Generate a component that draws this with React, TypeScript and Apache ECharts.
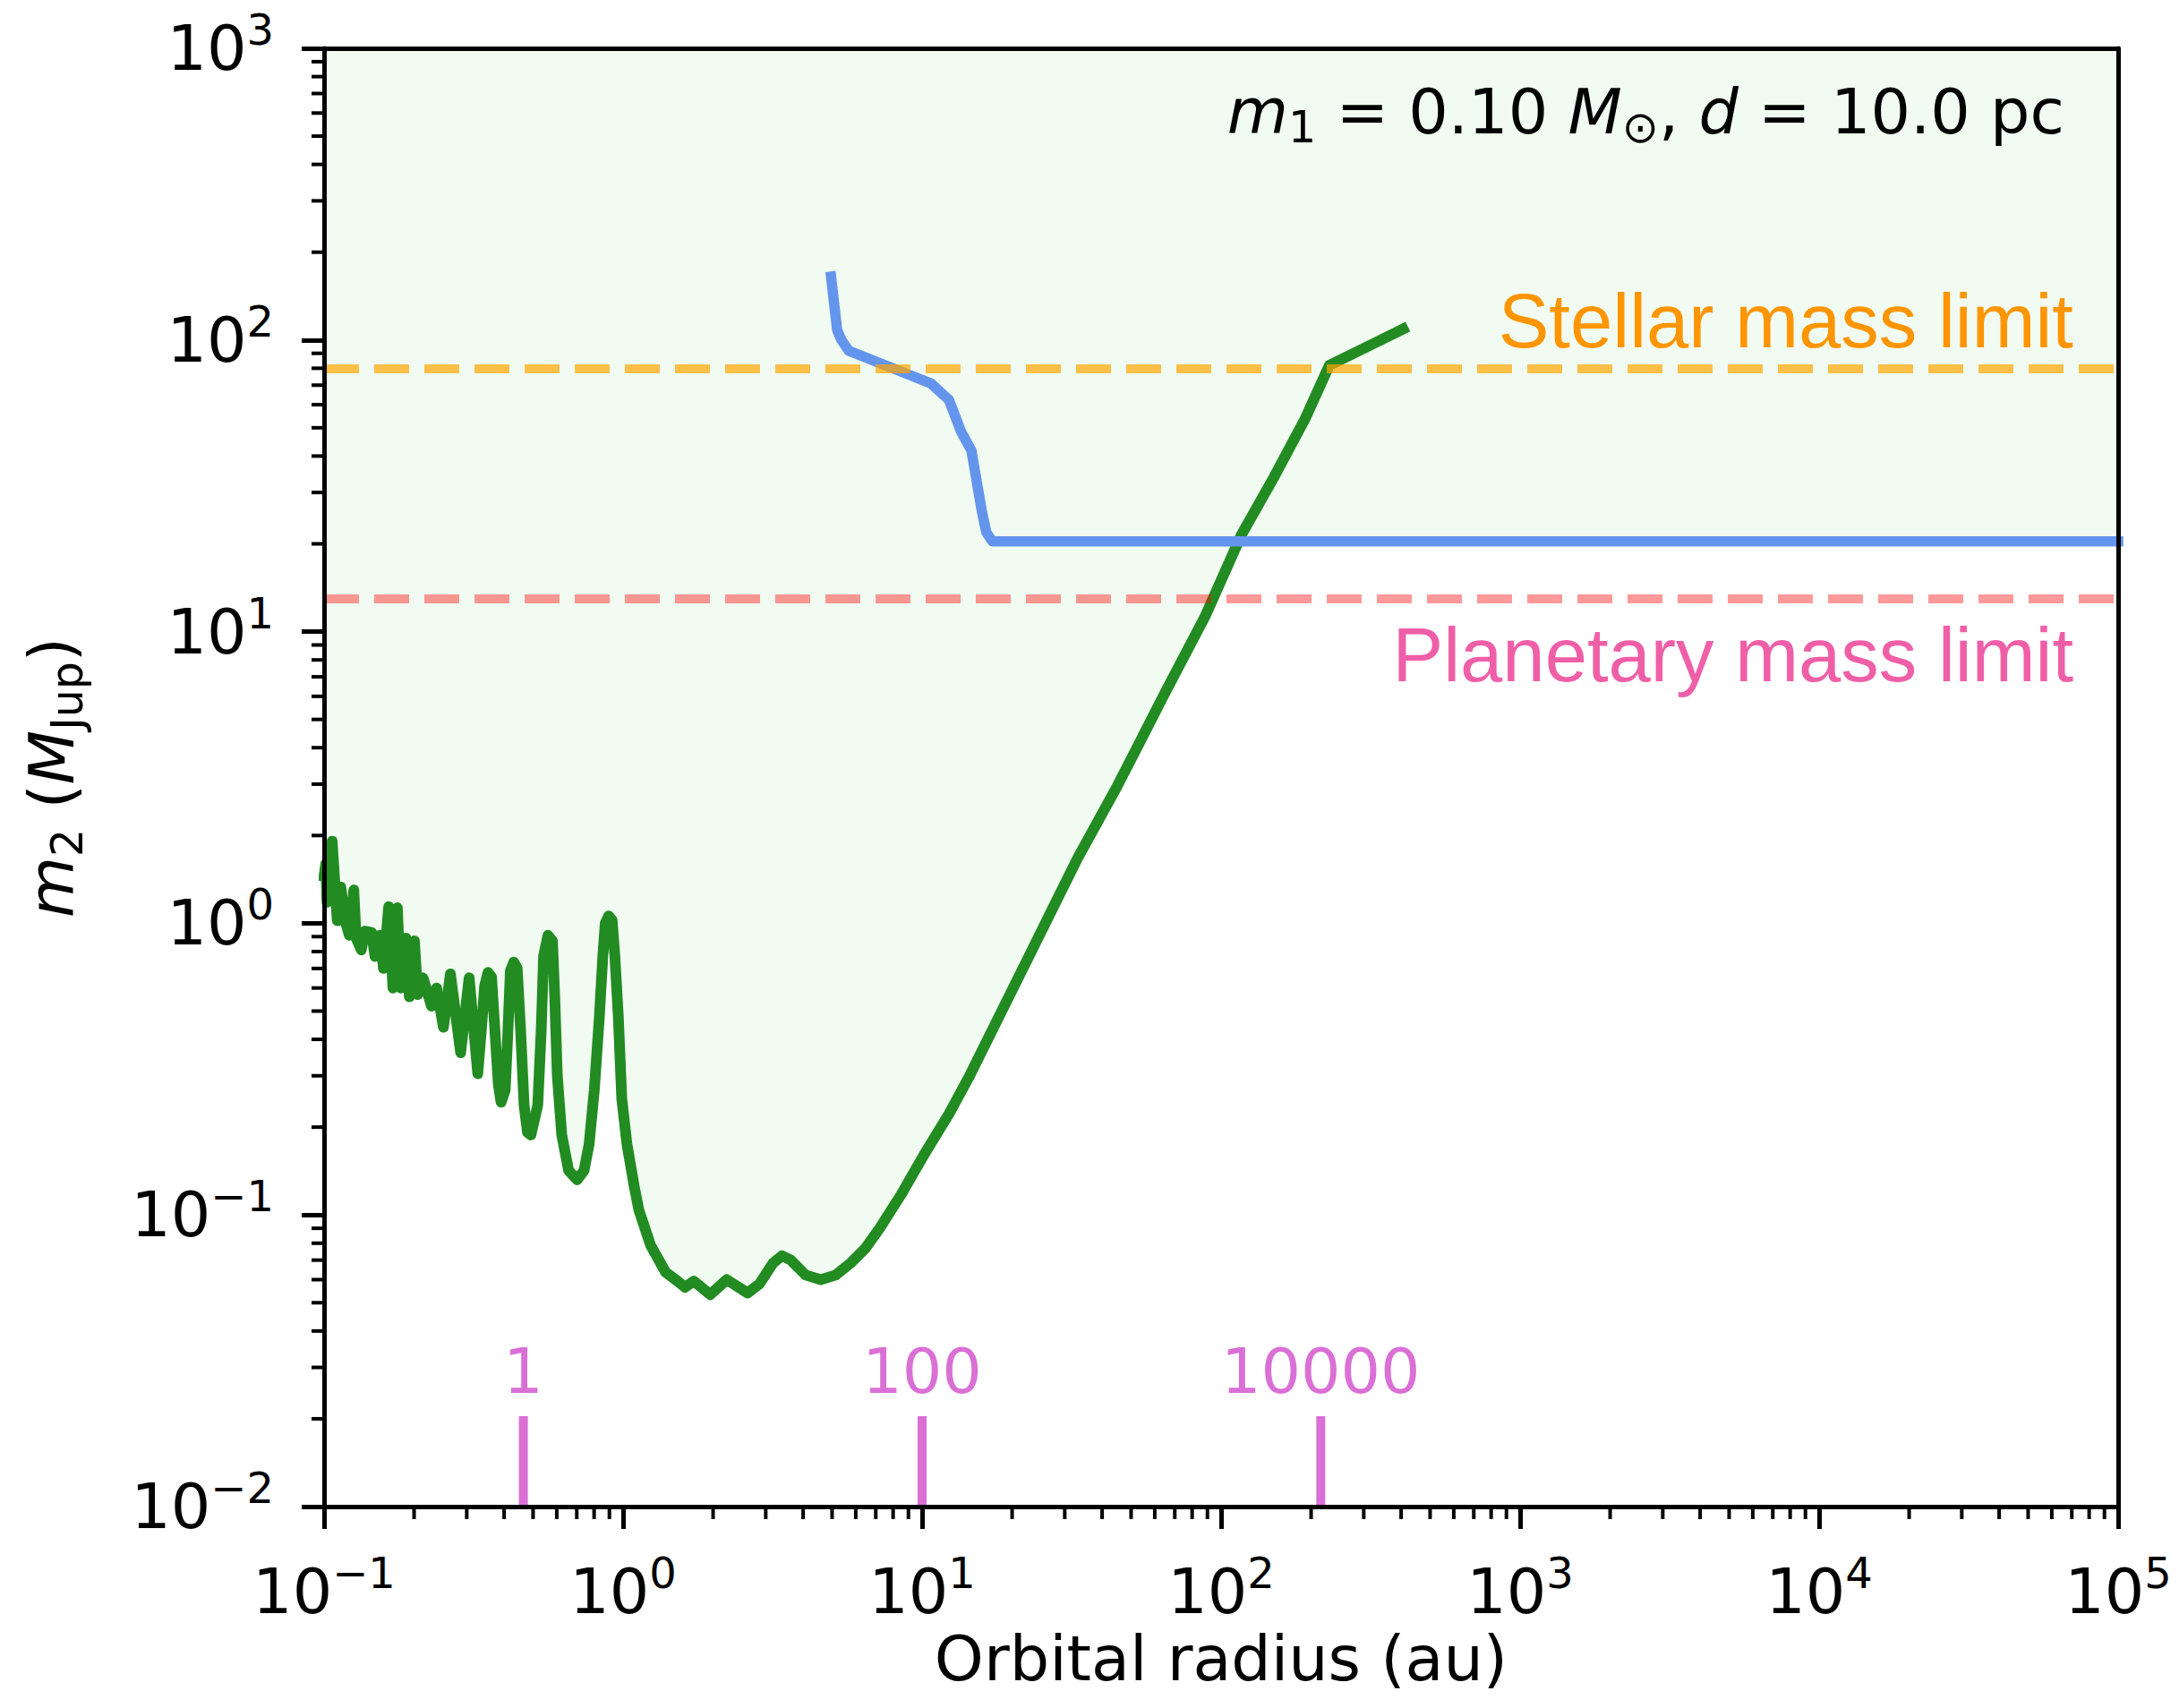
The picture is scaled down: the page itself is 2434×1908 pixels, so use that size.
import React, { useEffect, useRef } from "react";
import * as echarts from "echarts";

// ---- axis ranges ----
const X_MIN = 0.1;
const X_MAX = 1e5;
const Y_MIN = 0.01;
const Y_MAX = 1000;

// ---- detection limit (green) : orbital radius (au) / mass (M_Jup) ----
const greenX = [
  0.1, 0.1013, 0.1023, 0.1064, 0.1107, 0.1137, 0.1183, 0.1214, 0.1257, 0.128,
  0.1332, 0.1368, 0.1442, 0.148, 0.154, 0.158, 0.1645, 0.17, 0.1758, 0.1804,
  0.1877, 0.1928, 0.2005, 0.2057, 0.2142, 0.2287, 0.2379, 0.2507, 0.2645, 0.2862,
  0.3056, 0.3266, 0.3355, 0.3444, 0.3535, 0.3631, 0.3727, 0.3827, 0.3908, 0.4034,
  0.412, 0.4198, 0.4309, 0.4424, 0.4543, 0.4665, 0.4789, 0.4918, 0.5184, 0.5323,
  0.5422, 0.561, 0.5806, 0.5914, 0.6025, 0.6236, 0.6574, 0.7022, 0.7403, 0.7699,
  0.8012, 0.8335, 0.8557, 0.8717, 0.895, 0.919, 0.9386, 0.9636, 0.99, 1.03,
  1.09, 1.129, 1.236, 1.386, 1.52, 1.61, 1.724, 1.956, 2.221, 2.608,
  2.858, 3.17, 3.4, 3.64, 4.08, 4.58, 5.14, 5.76, 6.46, 7.24,
  8.51, 10.23, 12.3, 14.44, 22.86, 33.1, 45.0, 65.2, 88.5, 117,
  149.6, 191, 230, 406,
];
const greenY = [
  1.45, 1.6, 1.18, 1.91, 1.02, 1.33, 1.0, 0.91, 1.3, 0.89,
  0.81, 0.94, 0.93, 0.77, 0.91, 0.7, 1.14, 0.6, 1.13, 0.6,
  0.89, 0.56, 0.87, 0.57, 0.65, 0.52, 0.6, 0.44, 0.67, 0.36,
  0.65, 0.305, 0.428, 0.61, 0.678, 0.654, 0.428, 0.28, 0.2435, 0.268,
  0.428, 0.686, 0.736, 0.702, 0.428, 0.238, 0.192, 0.188, 0.238, 0.428,
  0.772, 0.91, 0.868, 0.542, 0.301, 0.188, 0.142, 0.132, 0.142, 0.175,
  0.268, 0.482, 0.772, 1.0, 1.06, 1.024, 0.772, 0.482, 0.25, 0.175,
  0.125, 0.104, 0.0787, 0.0637, 0.0593, 0.0565, 0.0593, 0.0533, 0.06, 0.054,
  0.058, 0.0683, 0.0724, 0.07, 0.0622, 0.06, 0.0622, 0.0683, 0.0768, 0.0906,
  0.1175, 0.163, 0.222, 0.301, 0.777, 1.67, 2.96, 6.22, 11.3, 21.5,
  33.6, 53.7, 81.8, 109,
];

// ---- second detection limit (blue) ----
const blueX = [4.96, 5.2, 5.38, 5.69, 10.72, 12.3, 13.49, 14.62, 15.85, 16.4, 17.16, 100000];
const blueY = [165, 108, 99.8, 91.8, 70.9, 62.3, 48.6, 41.8, 25.8, 21.9, 20.4, 20.4];

// ---- mass limits ----
const stellarLimit = 80;
const planetaryLimit = 13;

// ---- orbital period markers (years) and their orbital radius (au) ----
const periodLabels = ["1", "100", "10000"];
const periodAu = [0.464, 10.0, 215.4];

// ---- minor tick values ----
const minorX: number[] = [];
for (let e = -1; e < 5; e++) for (let k = 2; k <= 9; k++) minorX.push(k * Math.pow(10, e));
const minorY: number[] = [];
for (let e = -2; e < 3; e++) for (let k = 2; k <= 9; k++) minorY.push(k * Math.pow(10, e));

const FONT = "DejaVu Sans";
const FILL = "#F1FBF1";
const GREEN = "#228B22";
const BLUE = "#6495ED";
const ORCHID = "#DA70D6";

const pairs = (xs: number[], ys: number[]) => xs.map((x, i) => [x, ys[i]]);

const supLabel = (v: number) => {
  const e = Math.round(Math.log10(v));
  return `{b|10}{e|${e < 0 ? "\u2212" + -e : e}}`;
};

const tickRich = {
  b: {
    fontFamily: FONT,
    fontWeight: "normal",
    fontSize: 70,
    lineHeight: 70,
    verticalAlign: "bottom",
    color: "#000",
  },
  e: {
    fontFamily: FONT,
    fontWeight: "normal",
    fontSize: 48,
    lineHeight: 48,
    padding: [0, 0, 32, 0],
    verticalAlign: "bottom",
    color: "#000",
  },
};

const mathRich = {
  n: {
    fontFamily: FONT,
    fontWeight: "normal",
    fontSize: 70,
    lineHeight: 70,
    padding: [0, 0, 7, 0],
    verticalAlign: "bottom",
    color: "#000",
  },
  i: {
    fontFamily: FONT,
    fontWeight: "normal",
    fontStyle: "italic",
    fontSize: 70,
    lineHeight: 70,
    padding: [0, 0, 7, 0],
    verticalAlign: "bottom",
    color: "#000",
  },
  s: {
    fontFamily: FONT,
    fontWeight: "normal",
    fontSize: 49,
    lineHeight: 49,
    verticalAlign: "bottom",
    color: "#000",
  },
};

const spineAxis = {
  axisLine: { show: true, onZero: false, lineStyle: { color: "#000", width: 5 } },
  axisTick: { show: false },
  axisLabel: { show: false },
  splitLine: { show: false },
  minorTick: { show: false },
  z: 10,
};

export default function App() {
  const ref = useRef<HTMLDivElement>(null);

  useEffect(() => {
    document.body.style.margin = "0";
    if (!ref.current) return;
    const chart = echarts.init(ref.current, null, { renderer: "svg", width: 2434, height: 1908 });

    const option: any = {
      animation: false,
      backgroundColor: "#fff",
      title: {
        text: "{i|m}{s|1}{n|\u00A0=\u00A00.10\u00A0}{i|M}{s|\u2299}{n|,\u00A0}{i|d}{n|\u00A0=\u00A010.0\u00A0pc}",
        right: 128,
        top: 97,
        padding: 0,
        textStyle: { fontWeight: "normal", rich: mathRich },
      },
      grid: { left: 362, right: 68, top: 54, bottom: 225, containLabel: false },
      xAxis: [
        {
          type: "log",
          logBase: 10,
          min: X_MIN,
          max: X_MAX,
          interval: 1,
          splitNumber: 6,
          position: "bottom",
          axisLine: { show: true, onZero: false, lineStyle: { color: "#000", width: 5 } },
          axisTick: { show: true, length: 25, lineStyle: { color: "#000", width: 5 } },
          minorTick: { show: false },
          splitLine: { show: false },
          axisLabel: { formatter: supLabel, rich: tickRich, margin: 60 },
          name: "Orbital radius (au)",
          nameLocation: "middle",
          nameGap: 116,
          nameTextStyle: { fontFamily: FONT, fontSize: 70, lineHeight: 70, color: "#000" },
          z: 10,
        },
        { type: "log", logBase: 10, min: X_MIN, max: X_MAX, position: "top", ...spineAxis },
      ],
      yAxis: [
        {
          type: "log",
          logBase: 10,
          min: Y_MIN,
          max: Y_MAX,
          interval: 1,
          splitNumber: 5,
          position: "left",
          axisLine: { show: true, onZero: false, lineStyle: { color: "#000", width: 5 } },
          axisTick: { show: true, length: 25, lineStyle: { color: "#000", width: 5 } },
          minorTick: { show: false },
          splitLine: { show: false },
          axisLabel: { formatter: supLabel, rich: tickRich, margin: 56 },
          name: "{i|m}{s|2}{n|\u00A0(}{i|M}{s|Jup}{n|)}",
          nameLocation: "middle",
          nameRotate: 90,
          nameGap: 262,
          nameTextStyle: { rich: mathRich },
          z: 10,
        },
        { type: "log", logBase: 10, min: Y_MIN, max: Y_MAX, position: "right", ...spineAxis },
      ],
      series: [
        {
          name: "fill-green",
          type: "line",
          data: pairs(greenX, greenY),
          symbol: "none",
          silent: true,
          lineStyle: { width: 0 },
          areaStyle: { color: FILL, opacity: 1, origin: "end" },
          z: 1,
        },
        {
          name: "fill-blue",
          type: "line",
          data: pairs(blueX, blueY),
          symbol: "none",
          silent: true,
          lineStyle: { width: 0 },
          areaStyle: { color: FILL, opacity: 1, origin: "end" },
          z: 1,
        },
        {
          name: "green",
          type: "line",
          data: pairs(greenX, greenY),
          symbol: "none",
          silent: true,
          lineStyle: { color: GREEN, width: 12, join: "round", cap: "square" },
          z: 3,
        },
        {
          name: "blue",
          type: "line",
          data: pairs(blueX, blueY),
          symbol: "none",
          silent: true,
          lineStyle: { color: BLUE, width: 11.5, join: "round", cap: "square" },
          z: 4,
        },
        {
          name: "limits",
          type: "line",
          data: [],
          silent: true,
          z: 5,
          markLine: {
            silent: true,
            symbol: ["none", "none"],
            animation: false,
            emphasis: { disabled: true },
            data: [
              {
                yAxis: stellarLimit,
                lineStyle: { color: "rgba(255,165,0,0.7)", width: 10, type: [39, 17] },
                label: {
                  show: true,
                  position: "insideEndTop",
                  distance: [50, 10],
                  formatter: "Stellar mass limit",
                  color: "#FF9500",
                  fontFamily: "Liberation Sans",
                  fontSize: 85,
                  lineHeight: 85,
                },
              },
              {
                yAxis: planetaryLimit,
                lineStyle: { color: "rgba(255,0,0,0.4)", width: 10, type: [39, 17] },
                label: {
                  show: true,
                  position: "insideEndBottom",
                  distance: [50, 21],
                  formatter: "Planetary mass limit",
                  color: "#EF5FA7",
                  fontFamily: "Liberation Sans",
                  fontSize: 85,
                  lineHeight: 85,
                },
              },
            ],
          },
        },
        {
          name: "periods",
          type: "custom",
          silent: true,
          clip: false,
          z: 6,
          data: periodAu.map((a) => [a, Y_MIN]),
          renderItem: (params: any, api: any) => {
            const p = api.coord([api.value(0), api.value(1)]);
            const label = periodLabels[params.dataIndex];
            return {
              type: "group",
              children: [
                {
                  type: "line",
                  shape: { x1: p[0], y1: p[1], x2: p[0], y2: p[1] - 101 },
                  style: { stroke: ORCHID, lineWidth: 10 },
                },
                {
                  type: "text",
                  style: {
                    text: label,
                    x: p[0],
                    y: p[1] - 151,
                    align: "center",
                    verticalAlign: "middle",
                    textAlign: "center",
                    textVerticalAlign: "middle",
                    fill: ORCHID,
                    fontSize: 70,
                    fontFamily: FONT,
                    font: `70px "${FONT}"`,
                  },
                },
              ],
            };
          },
        },
        {
          name: "minor-x",
          type: "custom",
          silent: true,
          clip: false,
          z: 10,
          data: minorX.map((v) => [v, Y_MIN]),
          renderItem: (params: any, api: any) => {
            const p = api.coord([api.value(0), api.value(1)]);
            return {
              type: "line",
              shape: { x1: p[0], y1: p[1], x2: p[0], y2: p[1] + 14 },
              style: { stroke: "#000", lineWidth: 4 },
            };
          },
        },
        {
          name: "minor-y",
          type: "custom",
          silent: true,
          clip: false,
          z: 10,
          data: minorY.map((v) => [X_MIN, v]),
          renderItem: (params: any, api: any) => {
            const p = api.coord([api.value(0), api.value(1)]);
            return {
              type: "line",
              shape: { x1: p[0] - 14, y1: p[1], x2: p[0], y2: p[1] },
              style: { stroke: "#000", lineWidth: 4 },
            };
          },
        },
      ],
    };

    chart.setOption(option);
    return () => chart.dispose();
  }, []);

  return <div ref={ref} style={{ width: 2434, height: 1908 }} />;
}
